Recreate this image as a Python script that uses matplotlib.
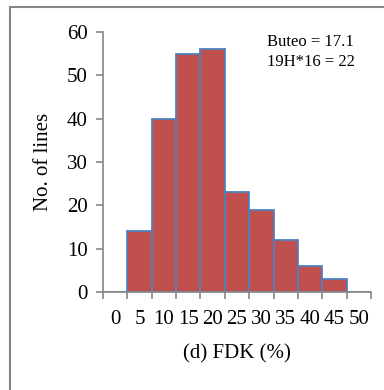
import matplotlib
matplotlib.use("Agg")
from matplotlib import pyplot as plt
from matplotlib.patches import Rectangle

# histogram bins (category labels) and counts
categories = ["0", "5", "10", "15", "20", "25", "30", "35", "40", "45", "50"]
counts = [0, 14, 40, 55, 56, 23, 19, 12, 6, 3, 0]
y_ticks = [0, 10, 20, 30, 40, 50, 60]
notes = ["Buteo = 17.1", "19H*16 = 22"]

plt.rcParams["font.family"] = ["Liberation Serif", "DejaVu Serif"]

W, H = 384, 390
fig = plt.figure(figsize=(W / 100, H / 100), dpi=100)

# outer chart border (cropped on right/bottom)
fig.patches.append(Rectangle((10 / W, -0.1), 1.2, 1 - 7 / H + 0.1,
                             transform=fig.transFigure, fill=False,
                             edgecolor="#868686", linewidth=1.5))

ax = fig.add_axes([103 / W, (H - 292) / H, (371 - 103) / W, (292 - 32) / H])

pos = [i + 0.5 for i in range(len(categories))]
ax.bar(pos, counts, width=1.0, color="#C0504D", edgecolor="#4F81BD", linewidth=1.3)

ax.set_xlim(0, len(categories))
ax.set_ylim(0, 60)
ax.set_xticks(range(len(categories) + 1))
ax.set_xticklabels([])
ax.set_xticks(pos, minor=True)
ax.set_xticklabels(categories, minor=True, fontsize=15)
ax.tick_params(axis="x", which="minor", length=0, pad=13)
ax.tick_params(axis="x", which="major", length=5, width=1.2, color="#868686")
ax.set_yticks(y_ticks)
ax.tick_params(axis="y", length=5, width=1.2, color="#868686", labelsize=15, pad=6)

for s in ["top", "right"]:
    ax.spines[s].set_visible(False)
for s in ["left", "bottom"]:
    ax.spines[s].set_color("#868686")
    ax.spines[s].set_linewidth(1.2)

ax.set_ylabel("No. of lines", fontsize=15, labelpad=10)
ax.set_xlabel("(d) FDK (%)", fontsize=15, labelpad=11)

fig.text(267 / W, 1 - 42 / H, notes[0], fontsize=12, va="center", ha="left")
fig.text(267 / W, 1 - 62 / H, notes[1], fontsize=12, va="center", ha="left")

fig.savefig("out.png", dpi=100)
